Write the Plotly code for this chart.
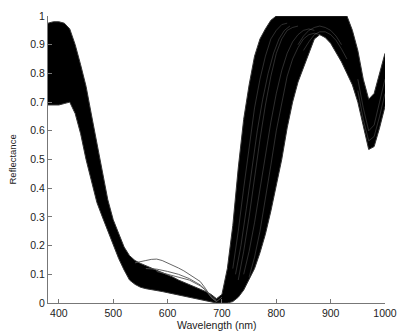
import plotly.graph_objects as go

# Wavelength grid (nm)
wavelength = list(range(380, 1001, 10))

# Upper and lower envelopes of the reflectance spectra
upper = [0.975, 0.98, 0.98, 0.975, 0.955, 0.90, 0.83, 0.755, 0.655, 0.56,
         0.465, 0.36, 0.29, 0.24, 0.195, 0.165, 0.148, 0.138, 0.13, 0.122,
         0.115, 0.108, 0.10, 0.09, 0.08, 0.072, 0.065, 0.057, 0.05, 0.04,
         0.03, 0.015, 0.03, 0.12, 0.27, 0.47, 0.64, 0.76, 0.86, 0.92,
         0.955, 0.985, 1.0, 1.0, 1.0, 1.0, 1.0, 1.0, 1.0, 1.0,
         1.0, 1.0, 1.0, 1.0, 1.0, 1.0, 0.95, 0.88, 0.78, 0.71,
         0.73, 0.80, 0.87]
lower = [0.69, 0.69, 0.69, 0.695, 0.70, 0.66, 0.59, 0.50, 0.42, 0.35,
         0.30, 0.25, 0.205, 0.155, 0.115, 0.08, 0.065, 0.055, 0.05, 0.047,
         0.045, 0.04, 0.036, 0.032, 0.028, 0.024, 0.02, 0.016, 0.012, 0.008,
         0.004, 0.0, 0.0, 0.0, 0.005, 0.02, 0.045, 0.08, 0.12, 0.175,
         0.24, 0.32, 0.41, 0.50, 0.61, 0.70, 0.77, 0.82, 0.87, 0.92,
         0.935, 0.925, 0.905, 0.875, 0.84, 0.80, 0.76, 0.70, 0.62, 0.535,
         0.545, 0.61, 0.685]

# Individual spectra standing above the band in the red trough
trough_wl_a = [540, 550, 560, 570, 580, 590, 600, 610, 620, 630, 640, 650, 660, 670, 680, 690, 700]
trough_a = [0.14, 0.145, 0.148, 0.152, 0.153, 0.148, 0.14, 0.13, 0.122, 0.112, 0.10, 0.09, 0.075, 0.05, 0.02, 0.005, 0.02]
trough_wl_b = [560, 580, 600, 620, 640, 650, 660, 670, 680, 690]
trough_b = [0.12, 0.118, 0.11, 0.10, 0.085, 0.075, 0.063, 0.045, 0.02, 0.005]
trough_wl_c = [580, 600, 620, 640, 660, 670, 680, 690]
trough_c = [0.11, 0.10, 0.09, 0.08, 0.06, 0.045, 0.025, 0.008]

# Lighter spectra visible inside the dense band (red edge, NIR plateau, water dip)
streaks = [
    ([720, 730, 740, 750, 760, 770, 780, 790, 800, 810, 820],
     [0.12, 0.25, 0.40, 0.55, 0.68, 0.78, 0.86, 0.92, 0.95, 0.97, 0.975]),
    ([725, 735, 745, 755, 765, 775, 785, 795, 805, 815, 825],
     [0.10, 0.20, 0.33, 0.47, 0.60, 0.71, 0.80, 0.87, 0.92, 0.95, 0.965]),
    ([730, 740, 750, 760, 770, 780, 790, 800, 810, 820, 830, 840],
     [0.08, 0.18, 0.30, 0.44, 0.57, 0.69, 0.79, 0.87, 0.92, 0.95, 0.96, 0.965]),
    ([740, 750, 760, 770, 780, 790, 800, 810, 820, 830, 840, 850, 860, 870],
     [0.10, 0.18, 0.28, 0.40, 0.52, 0.63, 0.73, 0.81, 0.87, 0.91, 0.935, 0.95, 0.955, 0.95]),
    ([750, 760, 770, 780, 790, 800, 810, 820, 830, 840, 850, 860, 870, 880],
     [0.09, 0.16, 0.25, 0.36, 0.48, 0.60, 0.70, 0.79, 0.85, 0.89, 0.92, 0.935, 0.94, 0.935]),
    ([840, 850, 860, 870, 880, 890, 900, 910, 920],
     [0.90, 0.93, 0.95, 0.96, 0.965, 0.96, 0.95, 0.93, 0.90]),
    ([850, 860, 870, 880, 890, 900, 910, 920, 930],
     [0.88, 0.91, 0.935, 0.945, 0.945, 0.935, 0.915, 0.885, 0.85]),
    ([950, 960, 970, 980, 990, 1000],
     [0.78, 0.68, 0.60, 0.62, 0.70, 0.78]),
    ([950, 960, 970, 980, 990, 1000],
     [0.74, 0.64, 0.565, 0.58, 0.65, 0.73]),
]

x_ticks = [400, 500, 600, 700, 800, 900, 1000]
y_ticks = [0, 0.1, 0.2, 0.3, 0.4, 0.5, 0.6, 0.7, 0.8, 0.9, 1]
y_tick_text = ["0", "0.1", "0.2", "0.3", "0.4", "0.5", "0.6", "0.7", "0.8", "0.9", "1"]

fig = go.Figure()

# Dense band of spectra
fig.add_trace(go.Scatter(x=wavelength, y=lower, mode="lines",
                         line=dict(color="#333333", width=1), hoverinfo="skip"))
fig.add_trace(go.Scatter(x=wavelength, y=upper, mode="lines", fill="tonexty",
                         fillcolor="#000000",
                         line=dict(color="#333333", width=1), hoverinfo="skip"))

for wx, wy in streaks:
    fig.add_trace(go.Scatter(x=wx, y=wy, mode="lines",
                             line=dict(color="rgba(130,130,130,0.6)", width=0.6),
                             hoverinfo="skip"))

for wx, wy in [(trough_wl_a, trough_a), (trough_wl_b, trough_b), (trough_wl_c, trough_c)]:
    fig.add_trace(go.Scatter(x=wx, y=wy, mode="lines",
                             line=dict(color="#555555", width=0.9), hoverinfo="skip"))

axis_font = dict(family="Liberation Sans, Arial, sans-serif", size=10.5, color="#222222")

fig.update_layout(
    width=405, height=333,
    margin=dict(l=48, r=8, t=16, b=30),
    paper_bgcolor="white", plot_bgcolor="white",
    showlegend=False,
    font=axis_font,
    xaxis=dict(range=[380, 1000], tickvals=x_ticks, ticks="inside", ticklen=4,
               tickcolor="#777777", showline=True, linecolor="#777777", linewidth=1,
               showgrid=False, zeroline=False, tickfont=axis_font,
               ticklabeloverflow="allow"),
    yaxis=dict(range=[0, 1], tickvals=y_ticks, ticktext=y_tick_text, ticks="inside",
               ticklen=4, tickcolor="#777777", showline=True, linecolor="#777777",
               linewidth=1, showgrid=False, zeroline=False, tickfont=axis_font,
               ticklabeloverflow="allow"),
    annotations=[
        dict(text="Wavelength (nm)", xref="paper", yref="paper", x=0.5, y=0,
             yshift=-22, showarrow=False, xanchor="center", yanchor="middle",
             font=dict(family="Liberation Sans, Arial, sans-serif", size=10.5, color="#222222")),
        dict(text="Reflectance", xref="paper", yref="paper", x=0, y=0.5,
             xshift=-36, showarrow=False, textangle=-90, xanchor="center", yanchor="middle",
             font=dict(family="Liberation Sans, Arial, sans-serif", size=9.5, color="#222222")),
    ],
)

fig.write_html("out.html")
